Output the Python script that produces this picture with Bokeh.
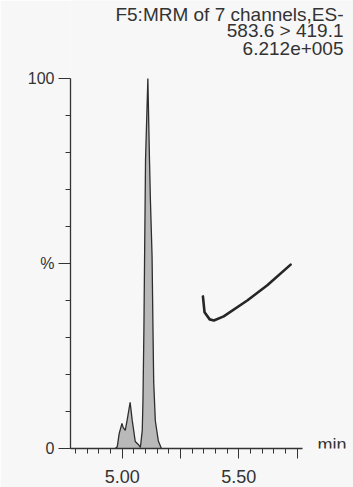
from bokeh.plotting import figure
from bokeh.models import Range1d, FixedTicker, CustomJSTickFormatter, Label
from bokeh.embed import file_html
from bokeh.resources import INLINE

# ---- data ----
title_lines = ["F5:MRM of 7 channels,ES-", "583.6 > 419.1", "6.212e+005"]
x_unit = "min"

rt_min = [4.970, 4.979, 4.987, 4.999, 5.004, 5.013, 5.021, 5.034, 5.043,
          5.056, 5.069, 5.078, 5.086, 5.089, 5.093, 5.096, 5.100, 5.110, 5.117,
          5.121, 5.128, 5.132, 5.135, 5.142, 5.155, 5.168]
intensity_pct = [0, 0.5, 4.0, 6.8, 5.7, 4.9, 7.6, 12.5, 7.6,
                 1.9, 1.1, 0.3, 4.9, 13, 32, 52, 78, 100, 78,
                 67, 52, 32, 18, 7.5, 2.0, 0]

check_rt = [5.346, 5.353, 5.375, 5.393, 5.435, 5.536, 5.622, 5.722]
check_pct = [41.1, 36.8, 34.9, 34.6, 35.7, 40.0, 44.1, 49.7]

x_major = [5.00, 5.25, 5.50, 5.75]
x_labeled = [5.00, 5.50]
x_minor = [4.80, 4.85, 4.90, 4.95, 5.05, 5.10, 5.15, 5.20, 5.30, 5.35, 5.40,
           5.45, 5.55, 5.60, 5.65, 5.70]
y_major = [0, 50, 100]
y_major_labels = ["0", "%", "100"]
y_minor = [10, 20, 30, 40, 60, 70, 80, 90]

x_axis_start, x_axis_end = 4.7784, 5.773
y_axis_start, y_axis_end = 0, 100

# ---- styling ----
BG = "#f7f7f7"
INK = "#333333"
FONT = "Liberation Sans"

W, H = 353, 487
LEFT, TOP, BOTTOM = 70, 0, 39
PX_PER_MIN = 233.3
PX_PER_PCT = 3.7
x_end = x_axis_start + (W - LEFT) / PX_PER_MIN
y_end = y_axis_end + 78 / PX_PER_PCT

p = figure(width=W, height=H, x_range=Range1d(x_axis_start, x_end),
           y_range=Range1d(y_axis_start, y_end), output_backend="svg",
           toolbar_location=None, min_border_left=LEFT, min_border_right=0,
           min_border_top=TOP, min_border_bottom=BOTTOM)
p.background_fill_color = BG
p.border_fill_color = BG
p.outline_line_color = None
p.xgrid.visible = False
p.ygrid.visible = False

# x axis
xa = p.xaxis[0]
xa.bounds = (x_axis_start, x_axis_end)
xa.ticker = FixedTicker(ticks=x_major, minor_ticks=x_minor)
xa.formatter = CustomJSTickFormatter(args=dict(vals=x_labeled), code="""
for (const v of vals) { if (Math.abs(tick - v) < 1e-6) return tick.toFixed(2); }
return '';""")
xa.axis_line_color = INK
xa.axis_line_width = 1.3
xa.major_tick_line_color = INK
xa.minor_tick_line_color = INK
xa.major_tick_out = 10
xa.major_tick_in = 0
xa.minor_tick_out = 5
xa.minor_tick_in = 0
xa.major_label_standoff = 11
xa.major_label_text_line_height = 1.0
xa.major_label_text_font = FONT
xa.major_label_text_font_size = "18px"
xa.major_label_text_color = INK

# y axis
ya = p.yaxis[0]
ya.bounds = (y_axis_start, y_axis_end)
ya.ticker = FixedTicker(ticks=y_major, minor_ticks=y_minor)
ya.formatter = CustomJSTickFormatter(args=dict(vals=y_major, labs=y_major_labels), code="""
for (let i = 0; i < vals.length; i++) { if (Math.abs(tick - vals[i]) < 1e-6) return labs[i]; }
return '';""")
ya.axis_line_color = INK
ya.axis_line_width = 1.3
ya.major_tick_line_color = INK
ya.minor_tick_line_color = INK
ya.major_tick_out = 12
ya.major_tick_in = 0
ya.minor_tick_out = 5
ya.minor_tick_in = 0
ya.major_label_standoff = 4
ya.major_label_text_font = FONT
ya.major_label_text_font_size = "16px"
ya.major_label_text_color = INK

# chromatogram
p.varea(x=rt_min, y1=[0] * len(rt_min), y2=intensity_pct, fill_color="#b9b9b9")
p.line(rt_min, intensity_pct, line_color="#2e2e2e", line_width=1.3)

# hand-drawn mark
p.line(check_rt, check_pct, line_color="#262626", line_width=2.6,
       line_cap="round", line_join="round")

# header text (right aligned)
title_x = 5.9486
title_y = [117.3, 112.84, 108.1]
for txt, yy in zip(title_lines, title_y):
    p.add_layout(Label(x=title_x, y=yy, text=txt, text_align="right",
                       text_baseline="alphabetic", text_font=FONT,
                       text_font_size="19px", text_color=INK))

# unit label
p.add_layout(Label(x=5.837, y=1.0, text=x_unit, text_align="left",
                   text_baseline="alphabetic", text_font=FONT,
                   text_font_size="18px", text_color=INK))

open("out.html", "w").write(file_html(p, INLINE))
